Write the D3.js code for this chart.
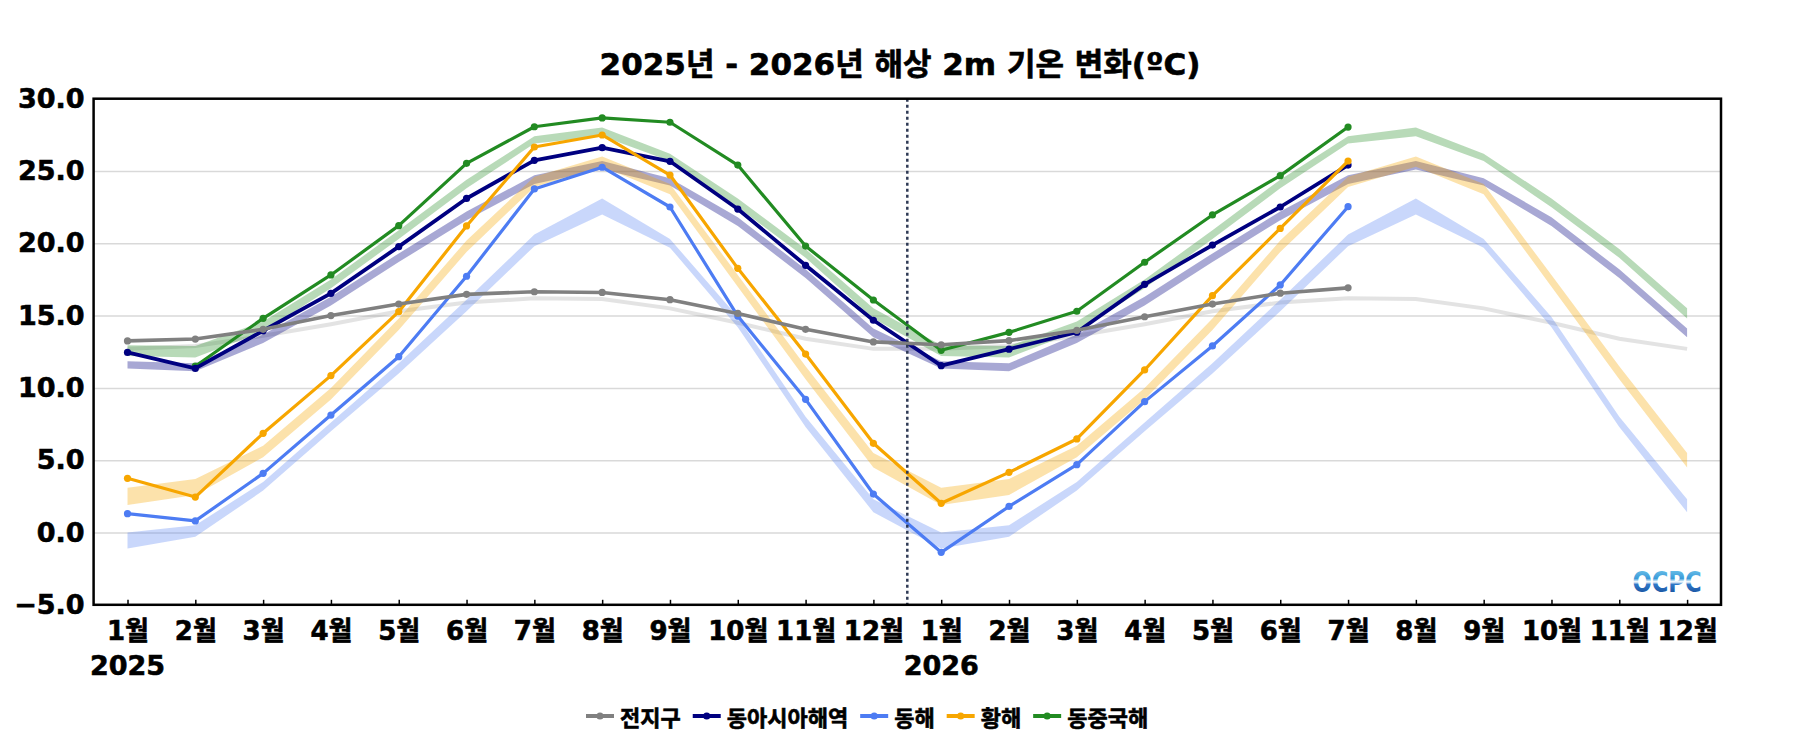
<!DOCTYPE html>
<html>
<head>
<meta charset="utf-8">
<script src="https://cdn.jsdelivr.net/npm/d3@7"></script>
<style>
  html, body { margin: 0; padding: 0; background: #fff; }
  svg { display: block; font-family: "DejaVu Sans", "Noto Sans CJK KR", sans-serif; font-weight: bold; }
  .heavy { stroke: #000; stroke-width: 0.6px; paint-order: stroke; }
</style>
</head>
<body>
<svg id="chart" width="1800" height="750"></svg>
<script>
// ---------------- data ----------------
const monthLabels = ["1월","2월","3월","4월","5월","6월","7월","8월","9월","10월","11월","12월",
                     "1월","2월","3월","4월","5월","6월","7월","8월","9월","10월","11월","12월"];
const yearLabels = [{ idx: 0, text: "2025" }, { idx: 12, text: "2026" }];
const yTicks = [-5, 0, 5, 10, 15, 20, 25, 30];

const seriesNames = ["전지구", "동아시아해역", "동해", "황해", "동중국해"];
const seriesColors = ["#808080", "#000080", "#4d7cf3", "#f7a600", "#228b22"];

// observed monthly values (Jan 2025 .. Jul 2026)
const globalObs    = [13.25, 13.38, 14.05, 15.0, 15.8, 16.47, 16.65, 16.6, 16.1, 15.15, 14.05, 13.18, 12.98, 13.27, 13.98, 14.92, 15.8, 16.55, 16.92];
const eastAsiaObs  = [12.45, 11.35, 13.95, 16.54, 19.77, 23.1, 25.74, 26.61, 25.67, 22.37, 18.48, 14.68, 11.54, 12.68, 13.85, 17.16, 19.88, 22.51, 25.41];
const eastSeaObs   = [1.3, 0.8, 4.09, 8.12, 12.16, 17.72, 23.76, 25.26, 22.51, 14.97, 9.21, 2.66, -1.37, 1.8, 4.69, 9.05, 12.9, 17.12, 22.53];
const yellowSeaObs = [3.75, 2.45, 6.86, 10.85, 15.27, 21.2, 26.66, 27.49, 24.72, 18.27, 12.34, 6.17, 2.02, 4.16, 6.47, 11.24, 16.38, 21.03, 25.69];
const ecsObs       = [null, 11.5, 14.81, 17.81, 21.22, 25.53, 28.06, 28.67, 28.37, 25.41, 19.81, 16.08, 12.6, 13.84, 15.3, 18.69, 21.96, 24.68, 28.04];

// climatology (24 months)
const globalClim = [12.7, 12.9, 13.6, 14.4, 15.3, 15.9, 16.2, 16.15, 15.5, 14.5, 13.4, 12.7,
                    12.7, 12.9, 13.6, 14.4, 15.3, 15.9, 16.2, 16.15, 15.5, 14.5, 13.4, 12.7];
const eastAsiaClimLow  = [11.35, 11.15, 13.1, 15.7, 18.7, 21.6, 24.1, 25.1, 24.0, 21.2, 17.6, 13.5,
                          11.35, 11.15, 13.1, 15.7, 18.7, 21.6, 24.1, 25.1, 24.0, 21.2, 17.6, 13.5];
const eastAsiaClimHigh = [11.85, 11.7, 13.7, 16.3, 19.3, 22.2, 24.7, 25.7, 24.5, 21.8, 18.2, 14.1,
                          11.85, 11.7, 13.7, 16.3, 19.3, 22.2, 24.7, 25.7, 24.5, 21.8, 18.2, 14.1];
const eastSeaClimLow   = [-1.1, -0.3, 2.9, 7.0, 11.0, 15.3, 19.8, 22.0, 19.7, 14.2, 7.3, 1.4,
                          -1.1, -0.3, 2.9, 7.0, 11.0, 15.3, 19.8, 22.0, 19.7, 14.2, 7.3, 1.4];
const eastSeaClimHigh  = [0.0, 0.5, 3.5, 7.6, 11.7, 16.1, 20.6, 23.1, 20.3, 14.9, 8.0, 2.3,
                          0.0, 0.5, 3.5, 7.6, 11.7, 16.1, 20.6, 23.1, 20.3, 14.9, 8.0, 2.3];
const yellowSeaClimLow  = [1.9, 2.6, 5.2, 9.2, 14.0, 19.4, 23.9, 25.3, 23.4, 17.0, 10.6, 4.5,
                           1.9, 2.6, 5.2, 9.2, 14.0, 19.4, 23.9, 25.3, 23.4, 17.0, 10.6, 4.5];
const yellowSeaClimHigh = [3.1, 3.7, 6.0, 10.0, 14.8, 20.2, 24.6, 26.0, 24.1, 17.8, 11.5, 5.5,
                           3.1, 3.7, 6.0, 10.0, 14.8, 20.2, 24.6, 26.0, 24.1, 17.8, 11.5, 5.5];
const ecsClimLow  = [12.2, 12.1, 13.9, 16.9, 20.3, 23.8, 26.9, 27.4, 25.7, 22.5, 19.0, 14.8,
                     12.2, 12.1, 13.9, 16.9, 20.3, 23.8, 26.9, 27.4, 25.7, 22.5, 19.0, 14.8];
const ecsClimHigh = [12.95, 12.9, 14.6, 17.5, 20.9, 24.4, 27.4, 28.0, 26.2, 23.1, 19.6, 15.5,
                     12.95, 12.9, 14.6, 17.5, 20.9, 24.4, 27.4, 28.0, 26.2, 23.1, 19.6, 15.5];

const titleText = "2025년 - 2026년 해상 2m 기온 변화(ºC)";

// ---------------- drawing ----------------
const svg = d3.select("#chart");
const pLeft = 93.6, pRight = 1721, pTop = 98.7, pBottom = 604.8;

const x = d3.scalePoint().domain(d3.range(monthLabels.length)).range([pLeft, pRight]).padding(0.5);
const y = d3.scaleLinear().domain([-5, 30]).range([pBottom, pTop]);

// title
svg.append("text").attr("class", "heavy").attr("x", 900).attr("y", 75).attr("text-anchor", "middle")
  .attr("font-size", 31).attr("fill", "#000").text(titleText);

// gridlines
svg.append("g").attr("transform", `translate(${pLeft},0)`)
  .call(d3.axisLeft(y).tickValues(yTicks.filter(v => v > -5 && v < 30)).tickSize(-(pRight - pLeft)).tickFormat(""))
  .call(g => g.select(".domain").remove())
  .call(g => g.selectAll("line").attr("stroke", "#d9d9d9").attr("stroke-width", 1.5));

// climatology
const clipId = "plotclip";
svg.append("clipPath").attr("id", clipId).append("rect")
  .attr("x", pLeft).attr("y", pTop).attr("width", pRight - pLeft).attr("height", pBottom - pTop);
const plot = svg.append("g").attr("clip-path", `url(#${clipId})`);

const lineGen = d3.line().defined(d => d != null).x((d, i) => x(i)).y(d => y(d));

plot.append("path").datum(globalClim).attr("d", lineGen)
  .attr("fill", "none").attr("stroke", "#808080").attr("stroke-opacity", 0.22).attr("stroke-width", 4);

const bands = [
  { low: eastAsiaClimLow, high: eastAsiaClimHigh, color: seriesColors[1], op: 0.34 },
  { low: eastSeaClimLow, high: eastSeaClimHigh, color: seriesColors[2], op: 0.3 },
  { low: yellowSeaClimLow, high: yellowSeaClimHigh, color: seriesColors[3], op: 0.33 },
  { low: ecsClimLow, high: ecsClimHigh, color: seriesColors[4], op: 0.32 }
];
bands.forEach(b => {
  const area = d3.area().x((d, i) => x(i)).y0((d, i) => y(b.low[i])).y1((d, i) => y(b.high[i]));
  plot.append("path").datum(b.low).attr("d", area)
    .attr("fill", b.color).attr("fill-opacity", b.op).attr("stroke", "none");
});

// observed series (draw order)
const observed = [
  { data: ecsObs, color: seriesColors[4], w: 3.2 },
  { data: eastAsiaObs, color: seriesColors[1], w: 3.8 },
  { data: eastSeaObs, color: seriesColors[2], w: 3.2 },
  { data: yellowSeaObs, color: seriesColors[3], w: 3.2 },
  { data: globalObs, color: seriesColors[0], w: 3.6 }
];
observed.forEach(s => {
  plot.append("path").datum(s.data).attr("d", lineGen)
    .attr("fill", "none").attr("stroke", s.color).attr("stroke-width", s.w)
    .attr("stroke-linejoin", "round");
  plot.selectAll(null).data(s.data.map((v, i) => ({ v, i })).filter(d => d.v != null))
    .enter().append("circle")
    .attr("cx", d => x(d.i)).attr("cy", d => y(d.v)).attr("r", 3.6).attr("fill", s.color);
});

// year divider
svg.append("line")
  .attr("x1", (x(11) + x(12)) / 2).attr("x2", (x(11) + x(12)) / 2)
  .attr("y1", pTop).attr("y2", pBottom)
  .attr("stroke", "#2e3a55").attr("stroke-width", 2.5).attr("stroke-dasharray", "3,3");

// y axis labels
svg.append("g").attr("transform", `translate(${pLeft},0)`)
  .call(d3.axisLeft(y).tickValues(yTicks).tickSize(0).tickPadding(9).tickFormat(d3.format(".1f")))
  .call(g => g.select(".domain").remove())
  .call(g => g.selectAll("text").attr("class", "heavy").attr("font-size", 27).attr("font-family", "DejaVu Sans").attr("font-weight", "bold").attr("fill", "#000"));

// x axis
svg.append("g").attr("transform", `translate(0,${pBottom})`)
  .call(d3.axisBottom(x).tickSize(-5).tickPadding(17).tickFormat(i => monthLabels[i]))
  .call(g => g.select(".domain").remove())
  .call(g => g.selectAll("line").attr("stroke", "#000").attr("stroke-width", 1.5))
  .call(g => g.selectAll("text").attr("class", "heavy").attr("font-size", 26).attr("font-family", "DejaVu Sans, Noto Sans CJK KR").attr("font-weight", "bold").attr("fill", "#000"));

svg.append("g").selectAll("text").data(yearLabels).enter().append("text")
  .attr("class", "heavy")
  .attr("x", d => x(d.idx)).attr("y", 675).attr("text-anchor", "middle")
  .attr("font-size", 27).attr("fill", "#000").text(d => d.text);

// frame
svg.append("rect").attr("x", pLeft).attr("y", pTop).attr("width", pRight - pLeft).attr("height", pBottom - pTop)
  .attr("fill", "none").attr("stroke", "#000").attr("stroke-width", 2.5);

// OCPC logo
const defs = svg.append("defs");
const grad = defs.append("linearGradient").attr("id", "ocpcGrad").attr("x1", 0).attr("y1", 0).attr("x2", 0).attr("y2", 1);
[["0%", "#7fd0f0"], ["38%", "#3b9ad8"], ["48%", "#ffffff"], ["56%", "#2f78c8"], ["100%", "#0c3a86"]]
  .forEach(([o, c]) => grad.append("stop").attr("offset", o).attr("stop-color", c));
svg.append("text").attr("x", 1667).attr("y", 592).attr("text-anchor", "middle")
  .attr("font-size", 28).attr("textLength", 69).attr("lengthAdjust", "spacingAndGlyphs")
  .attr("fill", "url(#ocpcGrad)").text("OCPC");

// legend
const legend = svg.append("g");
let lx = 586;
seriesNames.forEach((name, i) => {
  const g = legend.append("g");
  g.append("line").attr("x1", lx).attr("x2", lx + 28).attr("y1", 716).attr("y2", 716)
    .attr("stroke", seriesColors[i]).attr("stroke-width", 4);
  g.append("circle").attr("cx", lx + 14).attr("cy", 716).attr("r", 3.6).attr("fill", seriesColors[i]);
  const t = g.append("text").attr("class", "heavy").attr("x", lx + 34).attr("y", 716).attr("dominant-baseline", "central")
    .attr("font-size", 22).attr("font-family", "Noto Sans CJK KR").attr("fill", "#000").text(name);
  lx += 34 + t.node().getComputedTextLength() + 12;
});
</script>
</body>
</html>
